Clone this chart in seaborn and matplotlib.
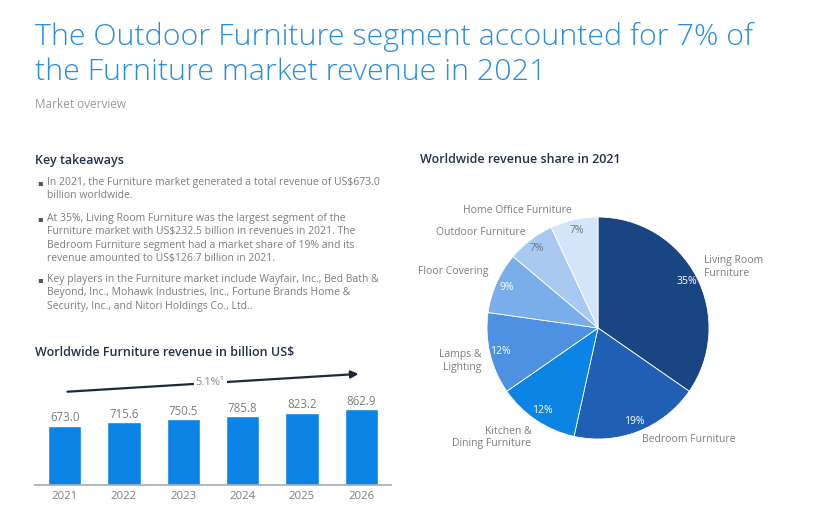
import matplotlib.pyplot as plt
import pandas as pd
import seaborn as sns

# bar chart data
years = ["2021", "2022", "2023", "2024", "2025", "2026"]
revenue = [673.0, 715.6, 750.5, 785.8, 823.2, 862.9]
cagr_label = "5.1%\u00b9"

# pie chart data (clockwise from top)
segments = [
    "Living Room\nFurniture",
    "Bedroom Furniture",
    "Kitchen &\nDining Furniture",
    "Lamps &\nLighting",
    "Floor Covering",
    "Outdoor Furniture",
    "Home Office Furniture",
]
shares = [35, 19, 12, 12, 9, 7, 7]
pie_colors = ["#1a4583", "#1f5fb4", "#0b84e5", "#4f91e1", "#7aaeea", "#a9c9f1", "#d4e4f9"]
pct_colors = ["white", "white", "white", "white", "white", "#6b7889", "#6b7889"]

takeaways = [
    "In 2021, the Furniture market generated a total revenue of US$673.0\nbillion worldwide.",
    "At 35%, Living Room Furniture was the largest segment of the\nFurniture market with US$232.5 billion in revenues in 2021. The\n"
    "Bedroom Furniture segment had a market share of 19% and its\nrevenue amounted to US$126.7 billion in 2021.",
    "Key players in the Furniture market include Wayfair, Inc., Bed Bath &\nBeyond, Inc., Mohawk Industries, Inc., Fortune Brands Home &\n"
    "Security, Inc., and Nitori Holdings Co., Ltd..",
]

sns.set_theme(style="white")
plt.rcParams["font.family"] = ["Open Sans", "DejaVu Sans"]

W, H = 820, 519
fig = plt.figure(figsize=(W / 100, H / 100), dpi=100)
fig.patch.set_facecolor("white")


def fx(px):
    return px / W


def fy(py):
    return 1 - py / H


title_color = "#2a8de0"
head_color = "#23324a"
gray = "#7d7d7d"

fig.text(fx(35), fy(37), "The Outdoor Furniture segment accounted for 7% of",
         fontsize=21.9, color=title_color, fontweight="light", va="center")
fig.text(fx(35), fy(72), "the Furniture market revenue in 2021",
         fontsize=21.9, color=title_color, fontweight="light", va="center")
fig.text(fx(35), fy(104), "Market overview", fontsize=8.5, color="#9a9a9a", va="center")

# key takeaways
fig.text(fx(35), fy(161), "Key takeaways", fontsize=9.0, color=head_color,
         fontweight="semibold", va="center")
bullet_tops = [184, 220, 281]
for top, txt in zip(bullet_tops, takeaways):
    fig.text(fx(37.5), fy(top), "\u25aa", fontsize=6, color="#555555", va="center")
    fig.text(fx(47), fy(top - 7), txt, fontsize=7.5, color=gray, va="top",
             linespacing=1.3)

# bar chart
fig.text(fx(35), fy(352), "Worldwide Furniture revenue in billion US$", fontsize=9.0,
         color=head_color, fontweight="semibold", va="center")
bar_df = pd.DataFrame({"year": years, "revenue": revenue})
ax = fig.add_axes([fx(35), fy(485), fx(356), (485 - 362) / H])
sns.barplot(data=bar_df, x="year", y="revenue", color="#0b84e5", width=0.56,
            saturation=1, ax=ax)
ax.set_ylim(0, 1400)
ax.set_xlim(-0.5, len(years) - 0.5)
ax.bar_label(ax.containers[0], fmt="%.1f", padding=1, fontsize=8.3, color=gray)
ax.set_xlabel("")
ax.set_ylabel("")
ax.set_yticks([])
for side in ["top", "right", "left"]:
    ax.spines[side].set_visible(False)
ax.spines["bottom"].set_color("#a3abb4")
ax.spines["bottom"].set_linewidth(1.2)
ax.tick_params(axis="x", length=0, pad=4, labelsize=8.2, labelcolor=gray)
ax.patch.set_alpha(0)
ax.annotate("", xy=(len(years) - 1, 1266 / 1400), xytext=(0, 1060 / 1400),
            xycoords=("data", "axes fraction"), textcoords=("data", "axes fraction"),
            arrowprops=dict(arrowstyle="-|>", color="#1c2a40", lw=1.6,
                            mutation_scale=11), annotation_clip=False)
ax.text(2.45, 1163 / 1400, cagr_label, transform=ax.get_xaxis_transform(),
        ha="center", va="center", fontsize=8, color="#8a8a8a",
        bbox=dict(facecolor="white", edgecolor="none", pad=1.5))

# pie chart
fig.text(fx(420), fy(160), "Worldwide revenue share in 2021", fontsize=9.0,
         color=head_color, fontweight="semibold", va="center")
r = 111
cx, cy = 598, 328
pax = fig.add_axes([fx(cx - 1.25 * r), fy(cy + 1.25 * r), fx(2.5 * r), 2.5 * r / H])
wedges, texts, autotexts = pax.pie(
    shares, labels=segments, colors=pie_colors, startangle=90, counterclock=False,
    autopct="%d%%", pctdistance=0.9, labeldistance=1.08,
    wedgeprops=dict(edgecolor="white", linewidth=0.6),
    textprops=dict(fontsize=7.5, color=gray),
)
for t, c, s in zip(autotexts, pct_colors, shares):
    t.set_text(f"{s}%")
    t.set_color(c)
# small nudges so the outer labels sit where the original has them
label_shift = [0.05, 0.0, -0.09, -0.045, 0.07, 0.0, 0.0]
for t, dy in zip(texts, label_shift):
    x, y = t.get_position()
    t.set_position((x, y + dy))
pax.set_aspect("equal")

fig.savefig("out.png", dpi=100, facecolor="white")
